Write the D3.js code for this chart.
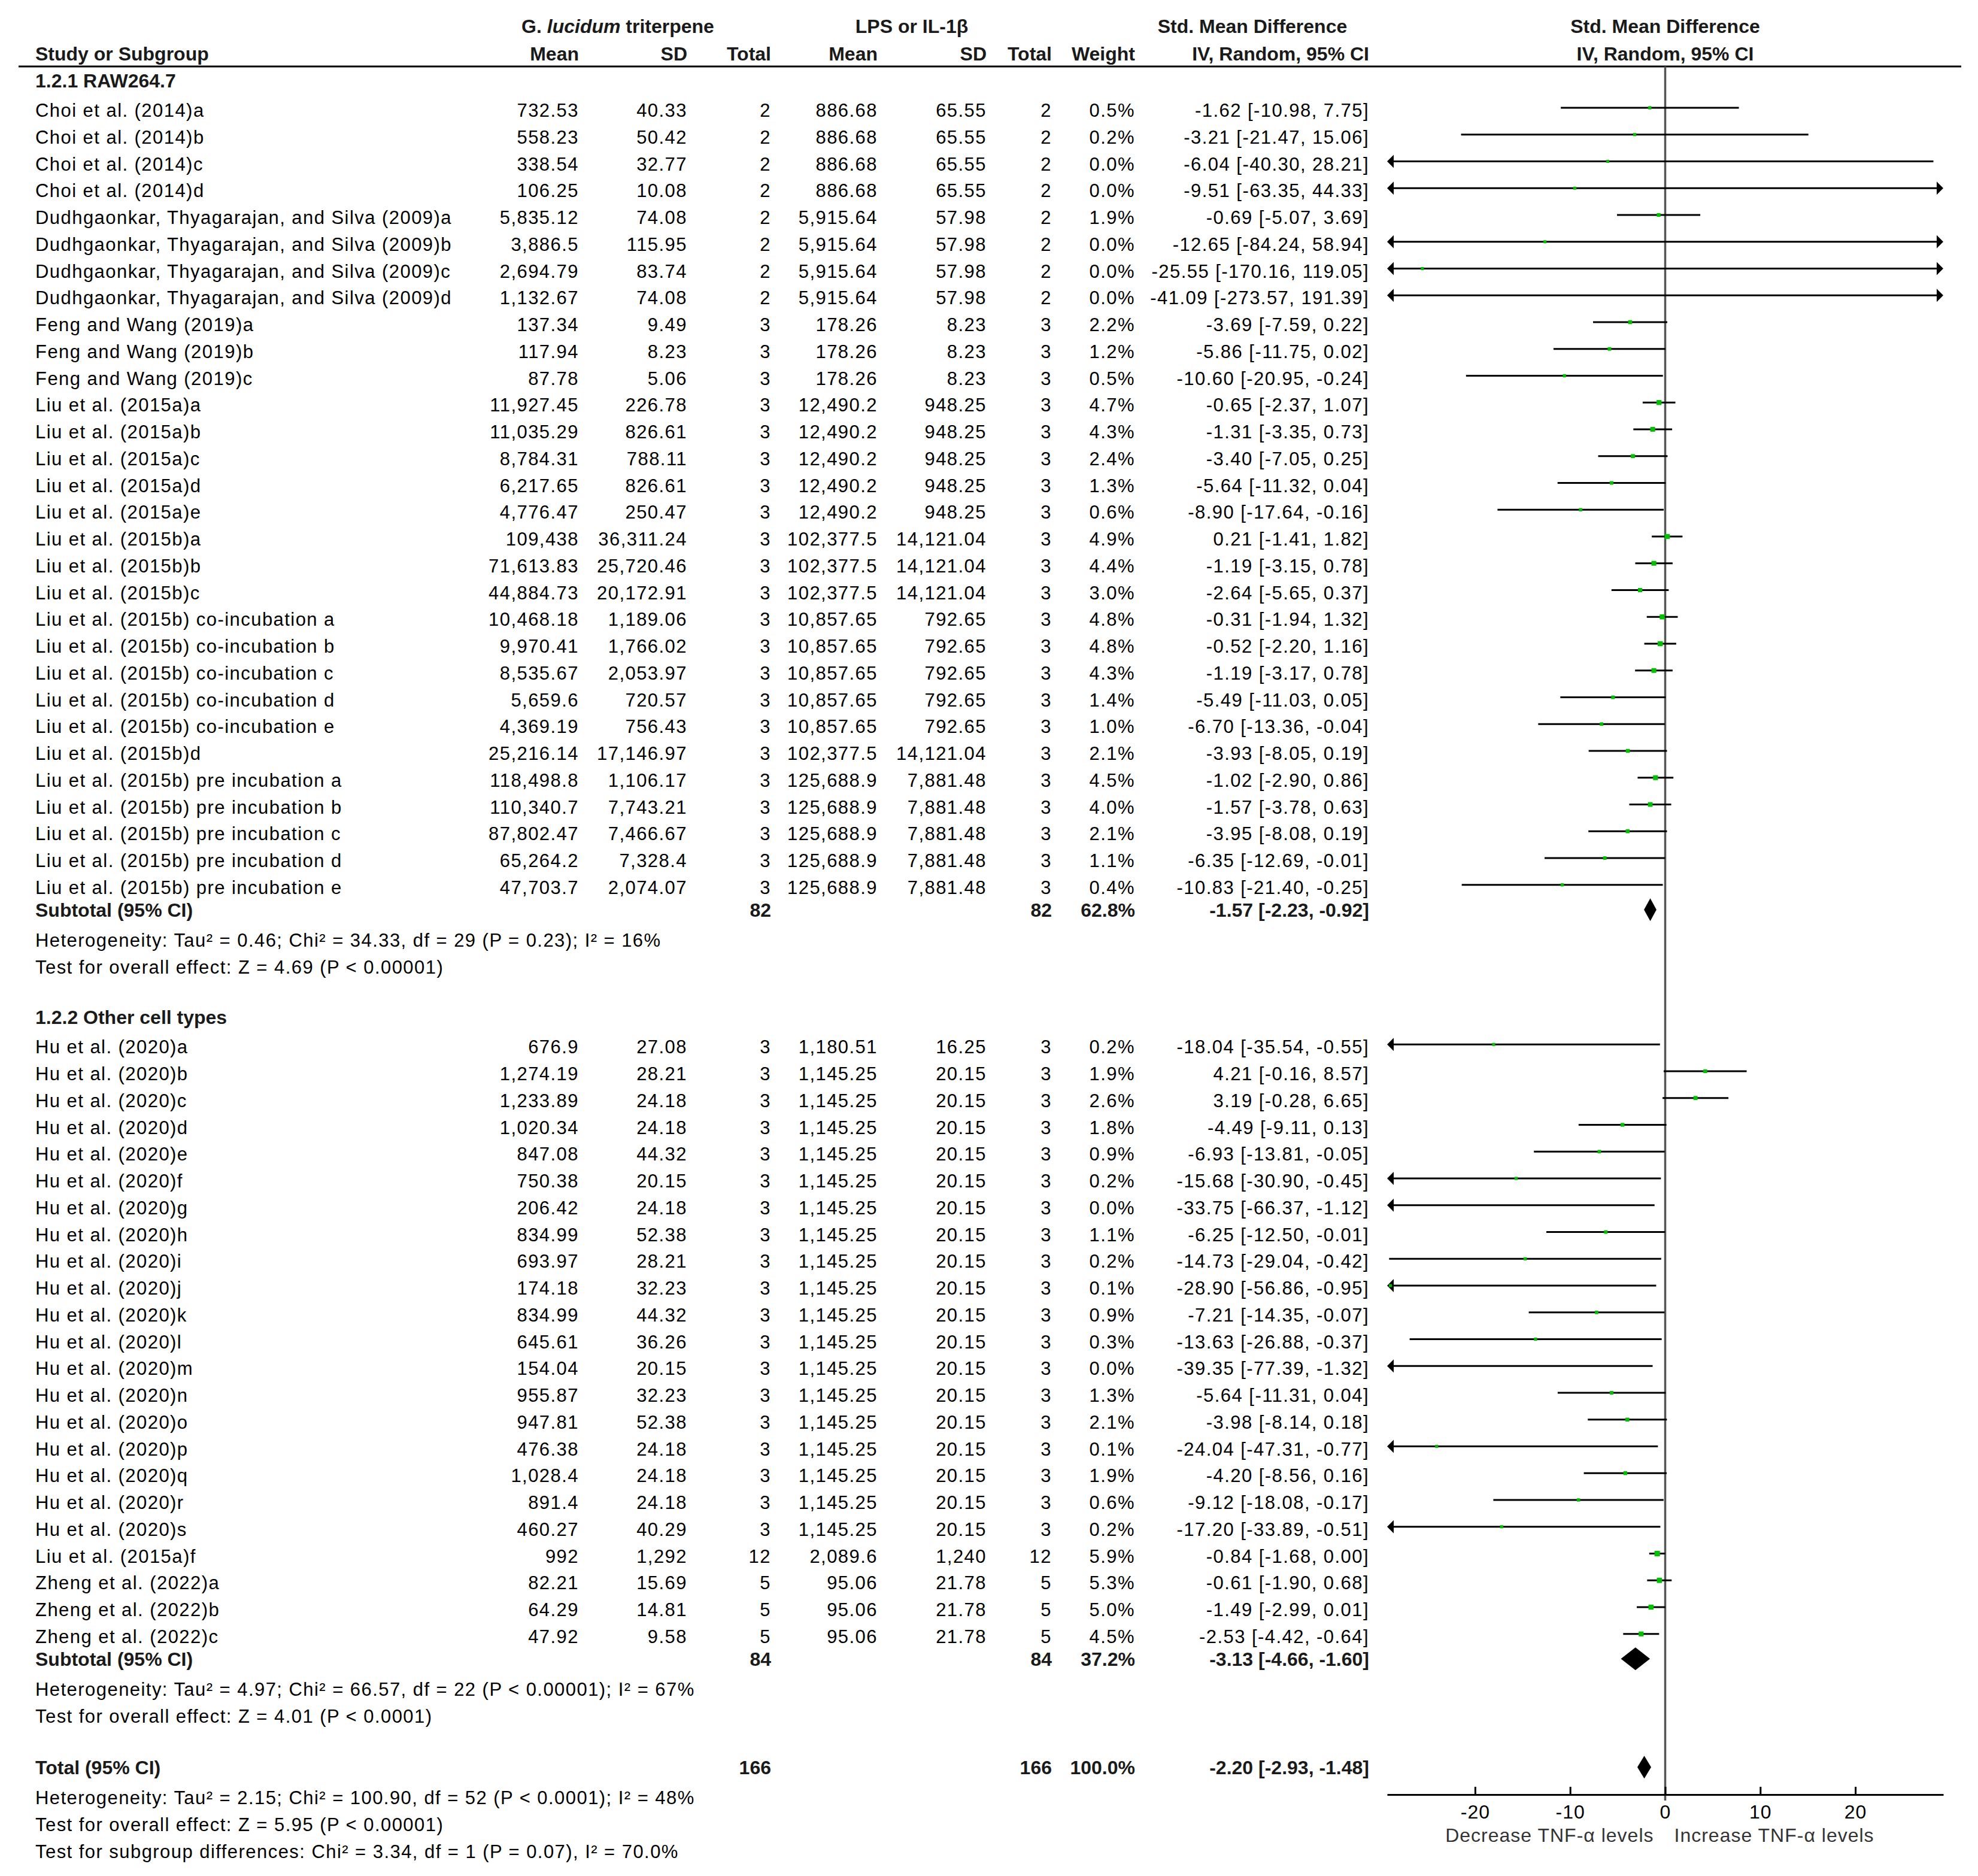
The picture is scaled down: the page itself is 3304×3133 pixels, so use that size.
<!DOCTYPE html>
<html>
<head>
<meta charset="utf-8">
<script src="https://cdn.jsdelivr.net/npm/d3@7"></script>
<style>
  body { margin: 0; background: #fff; }
  text { font-family: "Liberation Sans", Arial, sans-serif; }
</style>
</head>
<body>
<div id="root"></div>
<script>
// ---- data ----
const groupNames = ["1.2.1 RAW264.7", "1.2.2 Other cell types"];
const groupSizes = [30, 23];

const studies = [
  "Choi et al. (2014)a", "Choi et al. (2014)b", "Choi et al. (2014)c", "Choi et al. (2014)d",
  "Dudhgaonkar, Thyagarajan, and Silva (2009)a", "Dudhgaonkar, Thyagarajan, and Silva (2009)b",
  "Dudhgaonkar, Thyagarajan, and Silva (2009)c", "Dudhgaonkar, Thyagarajan, and Silva (2009)d",
  "Feng and Wang (2019)a", "Feng and Wang (2019)b", "Feng and Wang (2019)c",
  "Liu et al. (2015a)a", "Liu et al. (2015a)b", "Liu et al. (2015a)c", "Liu et al. (2015a)d", "Liu et al. (2015a)e",
  "Liu et al. (2015b)a", "Liu et al. (2015b)b", "Liu et al. (2015b)c",
  "Liu et al. (2015b) co-incubation a", "Liu et al. (2015b) co-incubation b", "Liu et al. (2015b) co-incubation c",
  "Liu et al. (2015b) co-incubation d", "Liu et al. (2015b) co-incubation e",
  "Liu et al. (2015b)d",
  "Liu et al. (2015b) pre incubation a", "Liu et al. (2015b) pre incubation b", "Liu et al. (2015b) pre incubation c",
  "Liu et al. (2015b) pre incubation d", "Liu et al. (2015b) pre incubation e",
  "Hu et al. (2020)a", "Hu et al. (2020)b", "Hu et al. (2020)c", "Hu et al. (2020)d", "Hu et al. (2020)e",
  "Hu et al. (2020)f", "Hu et al. (2020)g", "Hu et al. (2020)h", "Hu et al. (2020)i", "Hu et al. (2020)j",
  "Hu et al. (2020)k", "Hu et al. (2020)l", "Hu et al. (2020)m", "Hu et al. (2020)n", "Hu et al. (2020)o",
  "Hu et al. (2020)p", "Hu et al. (2020)q", "Hu et al. (2020)r", "Hu et al. (2020)s",
  "Liu et al. (2015a)f",
  "Zheng et al. (2022)a", "Zheng et al. (2022)b", "Zheng et al. (2022)c"
];

const expMean = [732.53, 558.23, 338.54, 106.25, 5835.12, 3886.5, 2694.79, 1132.67, 137.34, 117.94, 87.78,
  11927.45, 11035.29, 8784.31, 6217.65, 4776.47, 109438, 71613.83, 44884.73, 10468.18, 9970.41, 8535.67,
  5659.6, 4369.19, 25216.14, 118498.8, 110340.7, 87802.47, 65264.2, 47703.7,
  676.9, 1274.19, 1233.89, 1020.34, 847.08, 750.38, 206.42, 834.99, 693.97, 174.18, 834.99, 645.61,
  154.04, 955.87, 947.81, 476.38, 1028.4, 891.4, 460.27, 992, 82.21, 64.29, 47.92];

const expSD = [40.33, 50.42, 32.77, 10.08, 74.08, 115.95, 83.74, 74.08, 9.49, 8.23, 5.06,
  226.78, 826.61, 788.11, 826.61, 250.47, 36311.24, 25720.46, 20172.91, 1189.06, 1766.02, 2053.97,
  720.57, 756.43, 17146.97, 1106.17, 7743.21, 7466.67, 7328.4, 2074.07,
  27.08, 28.21, 24.18, 24.18, 44.32, 20.15, 24.18, 52.38, 28.21, 32.23, 44.32, 36.26,
  20.15, 32.23, 52.38, 24.18, 24.18, 24.18, 40.29, 1292, 15.69, 14.81, 9.58];

const expN = [2, 2, 2, 2, 2, 2, 2, 2, 3, 3, 3, 3, 3, 3, 3, 3, 3, 3, 3, 3, 3, 3, 3, 3, 3, 3, 3, 3, 3, 3,
  3, 3, 3, 3, 3, 3, 3, 3, 3, 3, 3, 3, 3, 3, 3, 3, 3, 3, 3, 12, 5, 5, 5];

const ctlMean = [886.68, 886.68, 886.68, 886.68, 5915.64, 5915.64, 5915.64, 5915.64, 178.26, 178.26, 178.26,
  12490.2, 12490.2, 12490.2, 12490.2, 12490.2, 102377.5, 102377.5, 102377.5, 10857.65, 10857.65, 10857.65,
  10857.65, 10857.65, 102377.5, 125688.9, 125688.9, 125688.9, 125688.9, 125688.9,
  1180.51, 1145.25, 1145.25, 1145.25, 1145.25, 1145.25, 1145.25, 1145.25, 1145.25, 1145.25, 1145.25, 1145.25,
  1145.25, 1145.25, 1145.25, 1145.25, 1145.25, 1145.25, 1145.25, 2089.6, 95.06, 95.06, 95.06];

const ctlSD = [65.55, 65.55, 65.55, 65.55, 57.98, 57.98, 57.98, 57.98, 8.23, 8.23, 8.23,
  948.25, 948.25, 948.25, 948.25, 948.25, 14121.04, 14121.04, 14121.04, 792.65, 792.65, 792.65,
  792.65, 792.65, 14121.04, 7881.48, 7881.48, 7881.48, 7881.48, 7881.48,
  16.25, 20.15, 20.15, 20.15, 20.15, 20.15, 20.15, 20.15, 20.15, 20.15, 20.15, 20.15,
  20.15, 20.15, 20.15, 20.15, 20.15, 20.15, 20.15, 1240, 21.78, 21.78, 21.78];

const ctlN = [2, 2, 2, 2, 2, 2, 2, 2, 3, 3, 3, 3, 3, 3, 3, 3, 3, 3, 3, 3, 3, 3, 3, 3, 3, 3, 3, 3, 3, 3,
  3, 3, 3, 3, 3, 3, 3, 3, 3, 3, 3, 3, 3, 3, 3, 3, 3, 3, 3, 12, 5, 5, 5];

const weights = [0.5, 0.2, 0.0, 0.0, 1.9, 0.0, 0.0, 0.0, 2.2, 1.2, 0.5, 4.7, 4.3, 2.4, 1.3, 0.6,
  4.9, 4.4, 3.0, 4.8, 4.8, 4.3, 1.4, 1.0, 2.1, 4.5, 4.0, 2.1, 1.1, 0.4,
  0.2, 1.9, 2.6, 1.8, 0.9, 0.2, 0.0, 1.1, 0.2, 0.1, 0.9, 0.3, 0.0, 1.3, 2.1, 0.1, 1.9, 0.6, 0.2,
  5.9, 5.3, 5.0, 4.5];

const smd = [-1.62, -3.21, -6.04, -9.51, -0.69, -12.65, -25.55, -41.09, -3.69, -5.86, -10.60,
  -0.65, -1.31, -3.40, -5.64, -8.90, 0.21, -1.19, -2.64, -0.31, -0.52, -1.19, -5.49, -6.70, -3.93,
  -1.02, -1.57, -3.95, -6.35, -10.83,
  -18.04, 4.21, 3.19, -4.49, -6.93, -15.68, -33.75, -6.25, -14.73, -28.90, -7.21, -13.63, -39.35,
  -5.64, -3.98, -24.04, -4.20, -9.12, -17.20, -0.84, -0.61, -1.49, -2.53];

const ciLow = [-10.98, -21.47, -40.30, -63.35, -5.07, -84.24, -170.16, -273.57, -7.59, -11.75, -20.95,
  -2.37, -3.35, -7.05, -11.32, -17.64, -1.41, -3.15, -5.65, -1.94, -2.20, -3.17, -11.03, -13.36, -8.05,
  -2.90, -3.78, -8.08, -12.69, -21.40,
  -35.54, -0.16, -0.28, -9.11, -13.81, -30.90, -66.37, -12.50, -29.04, -56.86, -14.35, -26.88, -77.39,
  -11.31, -8.14, -47.31, -8.56, -18.08, -33.89, -1.68, -1.90, -2.99, -4.42];

const ciHigh = [7.75, 15.06, 28.21, 44.33, 3.69, 58.94, 119.05, 191.39, 0.22, 0.02, -0.24,
  1.07, 0.73, 0.25, 0.04, -0.16, 1.82, 0.78, 0.37, 1.32, 1.16, 0.78, 0.05, -0.04, 0.19,
  0.86, 0.63, 0.19, -0.01, -0.25,
  -0.55, 8.57, 6.65, 0.13, -0.05, -0.45, -1.12, -0.01, -0.42, -0.95, -0.07, -0.37, -1.32,
  0.04, 0.18, -0.77, 0.16, -0.17, -0.51, 0.00, 0.68, 0.01, -0.64];

// subtotal 1, subtotal 2, total
const summaryLabels = ["Subtotal (95% CI)", "Subtotal (95% CI)", "Total (95% CI)"];
const summaryWeight = [62.8, 37.2, 100.0];
const summarySmd = [-1.57, -3.13, -2.20];
const summaryLow = [-2.23, -4.66, -2.93];
const summaryHigh = [-0.92, -1.60, -1.48];

const hetTexts = [
  "Heterogeneity: Tau² = 0.46; Chi² = 34.33, df = 29 (P = 0.23); I² = 16%",
  "Heterogeneity: Tau² = 4.97; Chi² = 66.57, df = 22 (P < 0.00001); I² = 67%",
  "Heterogeneity: Tau² = 2.15; Chi² = 100.90, df = 52 (P < 0.0001); I² = 48%"
];
const effectTexts = [
  "Test for overall effect: Z = 4.69 (P < 0.00001)",
  "Test for overall effect: Z = 4.01 (P < 0.0001)",
  "Test for overall effect: Z = 5.95 (P < 0.00001)"
];
const subgroupText = "Test for subgroup differences: Chi² = 3.34, df = 1 (P = 0.07), I² = 70.0%";

const tickValues = [-20, -10, 0, 10, 20];
const favourLabels = ["Decrease TNF-α levels", "Increase TNF-α levels"];

// ---- drawing ----
const W = 3304, H = 3133;
const loc = d3.formatLocale({decimal: ".", thousands: ",", grouping: [3], currency: ["", ""], minus: "-"});
const fNum = loc.format(",");
const f2 = loc.format(".2f");
const f1 = loc.format(".1f");
const fInt = loc.format("d");

const svg = d3.select("#root")
  .append("svg")
  .attr("width", W)
  .attr("height", H);

svg.append("rect").attr("width", W).attr("height", H).attr("fill", "#fff");

const col = {name: 59, expMean: 967, expSD: 1148, expN: 1288, ctlMean: 1466, ctlSD: 1648,
             ctlN: 1757, weight: 1896, ci: 2287};

const x = d3.scaleLinear().domain([-29.25, 29.25]).range([2317, 3246]);
const axisY = 2997;
const ruleY = 111;

function label(xp, yc, s, anchor, bold) {
  const t = svg.append("text")
    .attr("x", xp)
    .attr("y", yc + 11)
    .attr("text-anchor", anchor || "start")
    .text(s);
  if (bold) {
    t.attr("font-size", 32).attr("font-weight", "bold").attr("fill", "#1a1a1a");
  } else {
    t.attr("font-size", 31).attr("letter-spacing", 1.45).attr("fill", "#000");
  }
  return t;
}

// headers
const h1 = 44, h2 = 90;
const gl = svg.append("text")
  .attr("x", 1032).attr("y", h1 + 11)
  .attr("text-anchor", "middle")
  .attr("font-size", 32).attr("font-weight", "bold").attr("fill", "#1a1a1a");
gl.append("tspan").text("G. ");
gl.append("tspan").attr("font-style", "italic").text("lucidum");
gl.append("tspan").text(" triterpene");
label(1523, h1, "LPS or IL-1β", "middle", true);
label(2092, h1, "Std. Mean Difference", "middle", true);
label(x(0), h1, "Std. Mean Difference", "middle", true);

label(col.name, h2, "Study or Subgroup", "start", true);
label(col.expMean, h2, "Mean", "end", true);
label(col.expSD, h2, "SD", "end", true);
label(col.expN, h2, "Total", "end", true);
label(col.ctlMean, h2, "Mean", "end", true);
label(col.ctlSD, h2, "SD", "end", true);
label(col.ctlN, h2, "Total", "end", true);
label(col.weight, h2, "Weight", "end", true);
label(col.ci, h2, "IV, Random, 95% CI", "end", true);
label(x(0), h2, "IV, Random, 95% CI", "middle", true);

svg.append("line")
  .attr("x1", 31).attr("x2", 3276)
  .attr("y1", ruleY).attr("y2", ruleY)
  .attr("stroke", "#000").attr("stroke-width", 3);

// zero line
svg.append("line")
  .attr("x1", x(0)).attr("x2", x(0))
  .attr("y1", ruleY).attr("y2", axisY + 10)
  .attr("stroke", "#555").attr("stroke-width", 3.5);

// row layout
const pitch = 44.75;
const layout = [];
let y = 135, start = 0;
groupSizes.forEach(function(n, g) {
  layout.push({kind: "group", g: g, y: y});
  y += 49;
  for (let k = 0; k < n; k++) {
    layout.push({kind: "study", i: start + k, y: y});
    if (k < n - 1) y += pitch;
  }
  y += 38.5;
  layout.push({kind: "summary", s: g, n1: d3.sum(expN.slice(start, start + n)), n2: d3.sum(ctlN.slice(start, start + n)), y: y});
  y += 50;
  layout.push({kind: "note", text: hetTexts[g], y: y});
  y += 45;
  layout.push({kind: "note", text: effectTexts[g], y: y});
  y += 84;
  start += n;
});
y += 2;
layout.push({kind: "summary", s: 2, n1: d3.sum(expN), n2: d3.sum(ctlN), y: y});
y += 50;
layout.push({kind: "note", text: hetTexts[2], y: y});
y += 45;
layout.push({kind: "note", text: effectTexts[2], y: y});
y += 45;
layout.push({kind: "note", text: subgroupText, y: y});

const [xMin, xMax] = x.range();
const arrowLen = 11, arrowHalf = 11;

layout.forEach(function(r) {
  if (r.kind === "group") {
    label(col.name, r.y, groupNames[r.g], "start", true);
  } else if (r.kind === "note") {
    label(col.name, r.y, r.text, "start", false);
  } else if (r.kind === "study") {
    const i = r.i;
    label(col.name, r.y, studies[i]);
    label(col.expMean, r.y, fNum(expMean[i]), "end");
    label(col.expSD, r.y, fNum(expSD[i]), "end");
    label(col.expN, r.y, fInt(expN[i]), "end");
    label(col.ctlMean, r.y, fNum(ctlMean[i]), "end");
    label(col.ctlSD, r.y, fNum(ctlSD[i]), "end");
    label(col.ctlN, r.y, fInt(ctlN[i]), "end");
    label(col.weight, r.y, f1(weights[i]) + "%", "end");
    label(col.ci, r.y, f2(smd[i]) + " [" + f2(ciLow[i]) + ", " + f2(ciHigh[i]) + "]", "end");

    const ly = r.y - 4;
    const lo = ciLow[i] < x.domain()[0];
    const hi = ciHigh[i] > x.domain()[1];
    const x1 = lo ? xMin + arrowLen : x(ciLow[i]);
    const x2 = hi ? xMax - arrowLen : x(ciHigh[i]);
    svg.append("line")
      .attr("x1", x1).attr("x2", x2)
      .attr("y1", ly).attr("y2", ly)
      .attr("stroke", "#000").attr("stroke-width", 3);
    if (lo) {
      svg.append("path")
        .attr("d", "M" + xMin + "," + ly + "L" + (xMin + arrowLen) + "," + (ly - arrowHalf) + "L" + (xMin + arrowLen) + "," + (ly + arrowHalf) + "Z")
        .attr("fill", "#000");
    }
    if (hi) {
      svg.append("path")
        .attr("d", "M" + xMax + "," + ly + "L" + (xMax - arrowLen) + "," + (ly - arrowHalf) + "L" + (xMax - arrowLen) + "," + (ly + arrowHalf) + "Z")
        .attr("fill", "#000");
    }
    if (smd[i] >= x.domain()[0] && smd[i] <= x.domain()[1]) {
      const s = 5 + 0.7 * weights[i];
      svg.append("rect")
        .attr("x", x(smd[i]) - s / 2).attr("y", ly - s / 2)
        .attr("width", s).attr("height", s)
        .attr("fill", "#00c000");
    }
  } else if (r.kind === "summary") {
    const s = r.s;
    label(col.name, r.y, summaryLabels[s], "start", true);
    label(col.expN, r.y, fInt(r.n1), "end", true);
    label(col.ctlN, r.y, fInt(r.n2), "end", true);
    label(col.weight, r.y, f1(summaryWeight[s]) + "%", "end", true);
    label(col.ci, r.y, f2(summarySmd[s]) + " [" + f2(summaryLow[s]) + ", " + f2(summaryHigh[s]) + "]", "end", true);
    const dy = r.y - 1, half = 19;
    svg.append("path")
      .attr("d", "M" + x(summaryLow[s]) + "," + dy +
                 "L" + x(summarySmd[s]) + "," + (dy - half) +
                 "L" + x(summaryHigh[s]) + "," + dy +
                 "L" + x(summarySmd[s]) + "," + (dy + half) + "Z")
      .attr("fill", "#000");
  }
});

// axis
const axis = d3.axisBottom(x)
  .tickValues(tickValues)
  .tickSizeInner(-13)
  .tickSizeOuter(0)
  .tickPadding(17)
  .tickFormat(fInt);

const gAxis = svg.append("g")
  .attr("transform", "translate(0," + axisY + ")")
  .call(axis);
gAxis.attr("font-size", 32)
  .attr("font-family", "'Liberation Sans', Arial, sans-serif");
gAxis.select(".domain").attr("stroke", "#000").attr("stroke-width", 3);
gAxis.selectAll(".tick line").attr("stroke", "#000").attr("stroke-width", 3);
gAxis.selectAll(".tick text").attr("fill", "#000").attr("letter-spacing", 1);

svg.append("text")
  .attr("x", x(0) - 19).attr("y", 3076)
  .attr("text-anchor", "end")
  .attr("font-size", 32).attr("letter-spacing", 1).attr("fill", "#333")
  .text(favourLabels[0]);
svg.append("text")
  .attr("x", x(0) + 15).attr("y", 3076)
  .attr("text-anchor", "start")
  .attr("font-size", 32).attr("letter-spacing", 1).attr("fill", "#333")
  .text(favourLabels[1]);
</script>
</body>
</html>
